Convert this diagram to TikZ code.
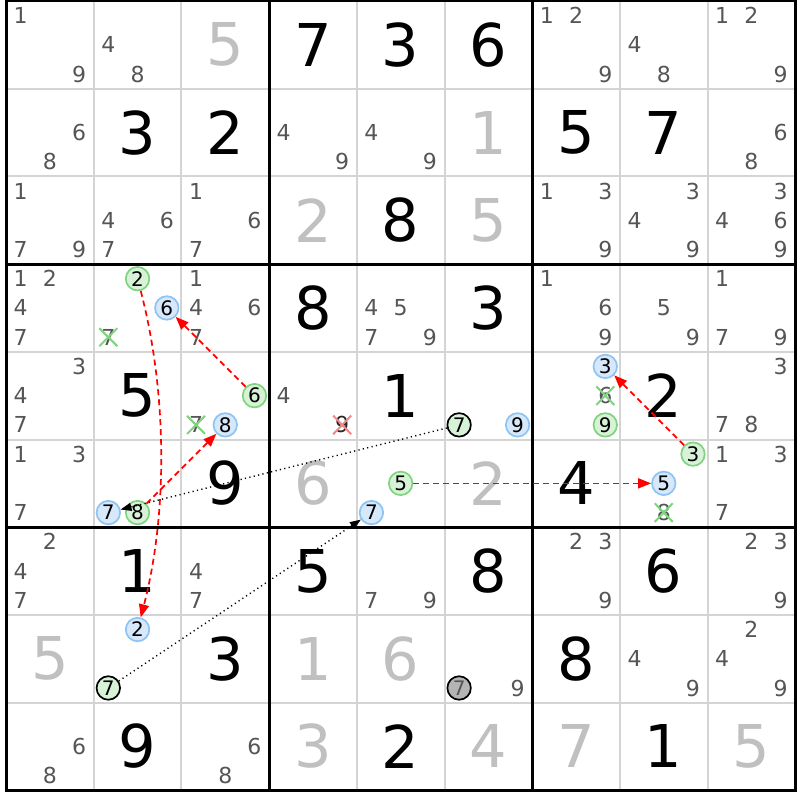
\documentclass[tikz,border=0pt]{standalone}
\usepackage{fontspec}
\setmainfont{DejaVu Sans}
\usetikzlibrary{arrows.meta,shapes.misc}
\definecolor{candgray}{HTML}{555555}
\definecolor{solvedgray}{HTML}{C0C0C0}
\definecolor{gridgray}{HTML}{D4D4D4}
\definecolor{bluefill}{HTML}{D6E8FA}
\definecolor{bluedraw}{HTML}{8EC4F4}
\definecolor{greenfill}{HTML}{D8F2D8}
\definecolor{greendraw}{HTML}{80D480}
\definecolor{redx}{HTML}{F08888}
\definecolor{offfill}{HTML}{B4B4B4}
\definecolor{linkred}{HTML}{FF0000}
\begin{document}
\begin{tikzpicture}[x=1pt,y=-1pt,
  cand/.style={text=candgray,font=\fontsize{22}{23}\selectfont,inner sep=0pt},
  given/.style={text=black,font=\fontsize{59}{60}\selectfont,inner sep=0pt},
  solved/.style={given,text=solvedgray},
  circ/.style={circle,minimum size=23.5pt,inner sep=0pt,line width=1.7pt,font=\fontsize{20}{21}\selectfont,text=black},
  bluec/.style={circ,draw=bluedraw,fill=bluefill},
  greenc/.style={circ,draw=greendraw,fill=greenfill},
  linkc/.style={circ,draw=black,fill=greenfill},
  offc/.style={circ,draw=black,fill=offfill,text=candgray},
  gx/.style={cand,cross out,draw=greendraw,line width=2pt,minimum size=16pt},
  rx/.style={cand,text=black!85,cross out,draw=redx,line width=2pt,minimum size=16pt},
  redlink/.style={linkred,line width=1.7pt,dash pattern=on 6pt off 4pt,-{Triangle[length=13pt,width=10pt]}},
  dotlink/.style={black,line width=1.4pt,dash pattern=on 1.2pt off 3.3pt,-{Triangle[length=11pt,width=8pt]}},
]
\def\CS{87.7}
\def\SS{29.2333}
\fill[white] (0,0) rectangle (800,800);
\useasboundingbox (0,0) rectangle (800,800);
% grid
\foreach \i in {1,2,4,5,7,8}{
  \draw[gridgray,line width=2pt] ({6+\CS*\i},1) -- ({6+\CS*\i},790);
  \draw[gridgray,line width=2pt] (6,{1+\CS*\i}) -- (795,{1+\CS*\i});
}
\foreach \i in {0,3,6,9}{
  \draw[black,line width=3pt] ({6+\CS*\i},-0.5) -- ({6+\CS*\i},791.5);
  \draw[black,line width=3pt] (4.5,{1+\CS*\i}) -- (796.5,{1+\CS*\i});
}
% givens
\foreach \r/\c/\n in {1/4/7,1/5/3,1/6/6,2/2/3,2/3/2,2/7/5,2/8/7,3/5/8,4/4/8,4/6/3,5/2/5,5/5/1,5/8/2,6/3/9,6/7/4,7/2/1,7/4/5,7/6/8,7/8/6,8/3/3,8/7/8,9/2/9,9/5/2,9/8/1}{
  \node[given] (g\r\c) at ({6+\CS*(\c-0.5)},{1+\CS*(\r-0.5)}) {\n};
}
% solved
\foreach \r/\c/\n in {1/3/5,2/6/1,3/4/2,3/6/5,6/4/6,6/6/2,8/1/5,8/4/1,8/5/6,9/4/3,9/6/4,9/7/7,9/9/5}{
  \node[solved] (g\r\c) at ({6+\CS*(\c-0.5)},{1+\CS*(\r-0.5)}) {\n};
}
% candidates
\foreach \r/\c/\n/\s in {
  1/1/1/cand,1/1/9/cand,1/2/4/cand,1/2/8/cand,1/7/1/cand,1/7/2/cand,1/7/9/cand,1/8/4/cand,1/8/8/cand,1/9/1/cand,1/9/2/cand,1/9/9/cand,
  2/1/6/cand,2/1/8/cand,2/4/4/cand,2/4/9/cand,2/5/4/cand,2/5/9/cand,2/9/6/cand,2/9/8/cand,
  3/1/1/cand,3/1/7/cand,3/1/9/cand,3/2/4/cand,3/2/6/cand,3/2/7/cand,3/3/1/cand,3/3/6/cand,3/3/7/cand,
  3/7/1/cand,3/7/3/cand,3/7/9/cand,3/8/3/cand,3/8/4/cand,3/8/9/cand,3/9/3/cand,3/9/4/cand,3/9/6/cand,3/9/9/cand,
  4/1/1/cand,4/1/2/cand,4/1/4/cand,4/1/7/cand,4/2/2/greenc,4/2/6/bluec,4/2/7/gx,4/3/1/cand,4/3/4/cand,4/3/6/cand,4/3/7/cand,
  4/5/4/cand,4/5/5/cand,4/5/7/cand,4/5/9/cand,4/7/1/cand,4/7/6/cand,4/7/9/cand,4/8/5/cand,4/8/9/cand,4/9/1/cand,4/9/7/cand,4/9/9/cand,
  5/1/3/cand,5/1/4/cand,5/1/7/cand,5/3/6/greenc,5/3/7/gx,5/3/8/bluec,5/4/4/cand,5/4/9/rx,5/6/7/linkc,5/6/9/bluec,
  5/7/3/bluec,5/7/6/gx,5/7/9/greenc,5/9/3/cand,5/9/7/cand,5/9/8/cand,
  6/1/1/cand,6/1/3/cand,6/1/7/cand,6/2/7/bluec,6/2/8/greenc,6/5/5/greenc,6/5/7/bluec,6/8/3/greenc,6/8/5/bluec,6/8/8/gx,
  6/9/1/cand,6/9/3/cand,6/9/7/cand,
  7/1/2/cand,7/1/4/cand,7/1/7/cand,7/3/4/cand,7/3/7/cand,7/5/7/cand,7/5/9/cand,7/7/2/cand,7/7/3/cand,7/7/9/cand,7/9/2/cand,7/9/3/cand,7/9/9/cand,
  8/2/2/bluec,8/2/7/linkc,8/6/7/offc,8/6/9/cand,8/8/4/cand,8/8/9/cand,8/9/2/cand,8/9/4/cand,8/9/9/cand,
  9/1/6/cand,9/1/8/cand,9/3/6/cand,9/3/8/cand}{
  \pgfmathsetmacro\kx{mod(\n-1,3)}
  \pgfmathsetmacro\ky{floor((\n-1)/3)}
  \node[\s] (k\r\c\n) at ({6+\CS*(\c-1)+\SS*(\kx+0.5)},{1+\CS*(\r-1)+\SS*(\ky+0.5)}) {\n};
}
% links
\draw[redlink] (k422) .. controls +(30,115) and +(30,-115) .. (k822);
\draw[redlink] (k536) -- (k426);
\draw[redlink] (k628) -- (k538);
\draw[redlink] (k655) -- (k685);
\draw[redlink] (k683) -- (k573);
\draw[dotlink] (k567) -- (k627);
\draw[dotlink] (k827) -- (k657);
\end{tikzpicture}
\end{document}
